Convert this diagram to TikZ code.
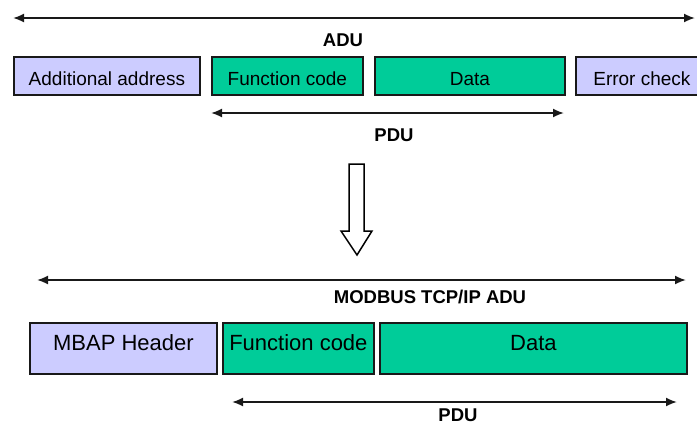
\documentclass[tikz,border=0pt]{standalone}
\usepackage{fontspec}
\setmainfont{Liberation Sans}
\usetikzlibrary{arrows.meta}
\definecolor{lav}{HTML}{CCCCFF}
\definecolor{grn}{HTML}{00CC99}
\tikzset{
  x=1pt, y=-1pt,
  fbox/.style={draw=black!90, line width=1.8pt, inner sep=0pt, anchor=north west},
  toptext/.style={font=\fontsize{19}{19}\selectfont, text height=18.6pt, text depth=0pt},
  bottext/.style={font=\fontsize{22}{22}\selectfont, text height=16pt, text depth=12.2pt},
  lbl/.style={font=\fontsize{18.5}{18.5}\selectfont\bfseries, inner sep=0pt},
  span/.style={line width=1.8pt, draw=black!90, {Latex[length=11pt,width=9pt]}-{Latex[length=11pt,width=9pt]}},
  hollow/.style={draw=black, line width=1.5pt, fill=white, line join=miter}
}
\begin{document}
\begin{tikzpicture}
\useasboundingbox (0,0) rectangle (697,426);
\clip (0,0) rectangle (697,426);
% top ADU span
\coordinate (adua) at (13,18);
\coordinate (adub) at (695,18);
\draw[span] (adua) -- (adub);
\node[lbl] (adu) at (343,40) {ADU};
% top row
\node[fbox, fill=lav, toptext, minimum width=186, minimum height=38] (addr) at (13,56) {Additional address};
\node[fbox, fill=grn, toptext, minimum width=151, minimum height=38] (fc1) at (211,56) {Function code};
\node[fbox, fill=grn, toptext, minimum width=190, minimum height=38] (data1) at (374,56) {Data};
\node[fbox, fill=lav, toptext, minimum width=132, minimum height=38] (err) at (575,56) {Error check};
% top PDU span
\coordinate (pdua) at (211,113);
\coordinate (pdub) at (564,113);
\draw[span] (pdua) -- (pdub);
\node[lbl] (pdu1) at (394,135) {PDU};
% hollow arrow
\draw[hollow] (349,164) -- (364,164) -- (364,231) -- (372,231) -- (357,255) -- (341,231) -- (349,231) -- cycle;
% bottom ADU span
\coordinate (tcpa) at (37,280);
\coordinate (tcpb) at (686,280);
\draw[span] (tcpa) -- (tcpb);
\node[lbl] (tcp) at (430,297) {MODBUS TCP/IP ADU};
% bottom row
\node[fbox, fill=lav, bottext, minimum width=187, minimum height=51] (mbap) at (29,322) {MBAP Header};
\node[fbox, fill=grn, bottext, minimum width=151, minimum height=51] (fc2) at (222,322) {Function code};
\node[fbox, fill=grn, bottext, minimum width=307, minimum height=51] (data2) at (379,322) {Data};
% bottom PDU span
\coordinate (pdc) at (232,402);
\coordinate (pdd) at (677,402);
\draw[span] (pdc) -- (pdd);
\node[lbl] (pdu2) at (458,415) {PDU};
\end{tikzpicture}
\end{document}
